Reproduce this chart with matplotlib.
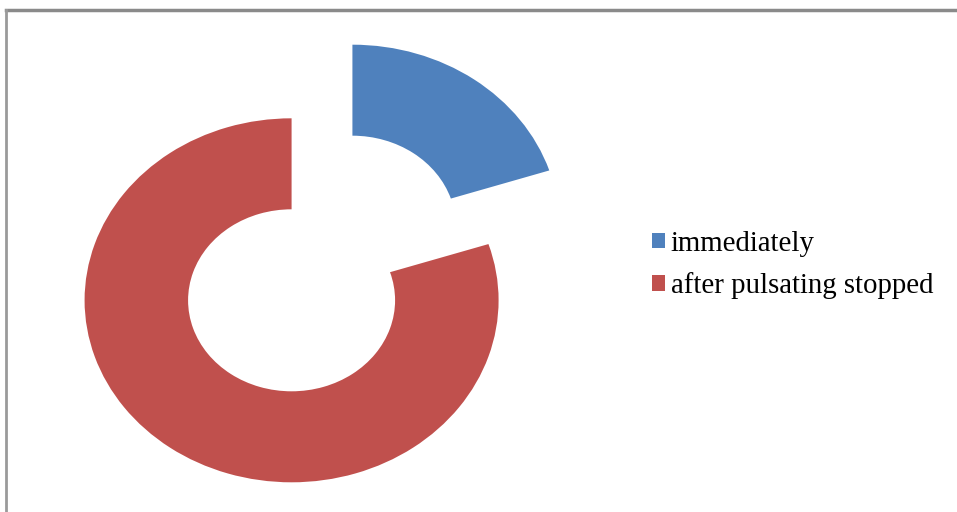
import matplotlib.pyplot as plt
from matplotlib.lines import Line2D

# data
labels = ["immediately", "after pulsating stopped"]
values = [20, 80]
colors = ["#4F81BD", "#C0504D"]

W, H = 957, 512
fig = plt.figure(figsize=(W / 100, H / 100), dpi=100)

# axes placed in pixels; plot slightly wider than tall like the original
left_px, right_px, top_px, bottom_px = 60, 560, 20, 500
ax = fig.add_axes([left_px / W, 1 - bottom_px / H,
                   (right_px - left_px) / W, (bottom_px - top_px) / H])

wedges, _ = ax.pie(values, colors=colors, startangle=90, counterclock=False,
                   explode=[0.25, 0.25], radius=1.0,
                   wedgeprops=dict(width=0.5, linewidth=0))

# donut centre at pixel (322, 263.5); 207 px per unit in x, 182 px in y
cx, cy, sx, sy = 322, 263.5, 207, 182
ax.set_aspect("auto")
ax.set_xlim((left_px - cx) / sx, (right_px - cx) / sx)
ax.set_ylim((cy - bottom_px) / sy, (cy - top_px) / sy)
ax.axis("off")

leg = fig.legend(wedges, labels, loc="center left",
                 bbox_to_anchor=(626 / W, 1 - 265 / H),
                 frameon=False, handlelength=0.45, handleheight=0.45,
                 handletextpad=0.2, labelspacing=0.55,
                 prop={"family": "Liberation Serif", "size": 20.8})

# chart area border (top and left visible)
fig.add_artist(Line2D([6 / W, 1], [1 - 10 / H, 1 - 10 / H], color="#8a8a8a",
                      lw=2.5, transform=fig.transFigure))
fig.add_artist(Line2D([6 / W, 6 / W], [0, 1 - 10 / H], color="#9a9a9a",
                      lw=2, transform=fig.transFigure))

fig.savefig("out.png", dpi=100)
